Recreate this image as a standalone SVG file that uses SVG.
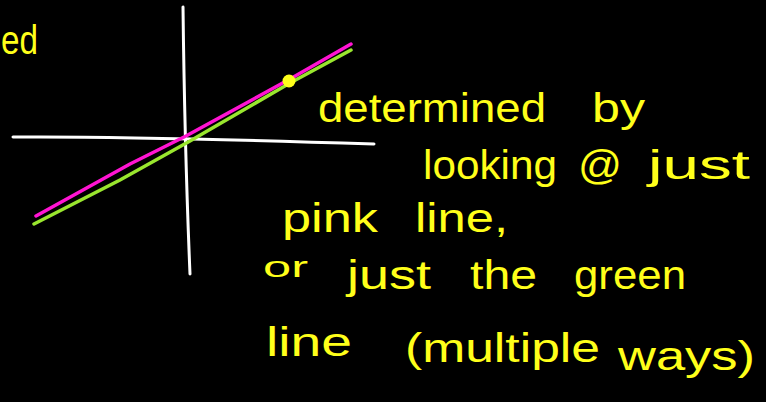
<svg xmlns="http://www.w3.org/2000/svg" width="766" height="402" viewBox="0 0 766 402">
<style>
.t{font-family:"Liberation Sans","DejaVu Sans",sans-serif;font-size:40px;fill:#ffff1a;}
.ax{stroke:#ffffff;stroke-width:3;fill:none;stroke-linecap:round;}
</style>
<rect width="766" height="402" fill="#000"/>
<g id="axes">
<path class="ax" d="M183,7 C184,90 186,180 190,274"/>
<path class="ax" d="M13,137 C120,136 250,140 374,144"/>
</g>
<g id="connectors">
<path d="M34,224 L120,180 L190,141 L290,83 L351,50" stroke="#99e62e" stroke-width="3.5" fill="none" stroke-linecap="round"/>
<path d="M36,216 L130,164 L186,136 L290,79 L351,44" stroke="#ff14d2" stroke-width="3.5" fill="none" stroke-linecap="round"/>
</g>
<g id="point"><circle cx="289" cy="81" r="6.5" fill="#ffff1a"/></g>
<g id="labels">
<text class="t" x="1" y="54" textLength="37" lengthAdjust="spacingAndGlyphs">ed</text>
<text class="t" x="318" y="122" textLength="228" lengthAdjust="spacingAndGlyphs">determined</text>
<text class="t" x="592" y="122" textLength="53" lengthAdjust="spacingAndGlyphs">by</text>
<text class="t" x="423" y="179" textLength="134" lengthAdjust="spacingAndGlyphs">looking</text>
<text class="t" x="578" y="179" textLength="44" lengthAdjust="spacingAndGlyphs">@</text>
<text class="t" x="648" y="179" textLength="102" lengthAdjust="spacingAndGlyphs">just</text>
<text class="t" x="282" y="232" textLength="96" lengthAdjust="spacingAndGlyphs">pink</text>
<text class="t" x="415" y="232" textLength="93" lengthAdjust="spacingAndGlyphs">line,</text>
<text class="t" x="263" y="277" style="font-size:30px" textLength="45" lengthAdjust="spacingAndGlyphs">or</text>
<text class="t" x="347" y="289" textLength="84" lengthAdjust="spacingAndGlyphs">just</text>
<text class="t" x="470" y="289" textLength="67" lengthAdjust="spacingAndGlyphs">the</text>
<text class="t" x="574" y="289" textLength="112" lengthAdjust="spacingAndGlyphs">green</text>
<text class="t" x="266" y="356" textLength="86" lengthAdjust="spacingAndGlyphs">line</text>
<text class="t" x="405" y="362" textLength="195" lengthAdjust="spacingAndGlyphs">(multiple</text>
<text class="t" x="618" y="370" textLength="137" lengthAdjust="spacingAndGlyphs">ways)</text>
</g>
</svg>
